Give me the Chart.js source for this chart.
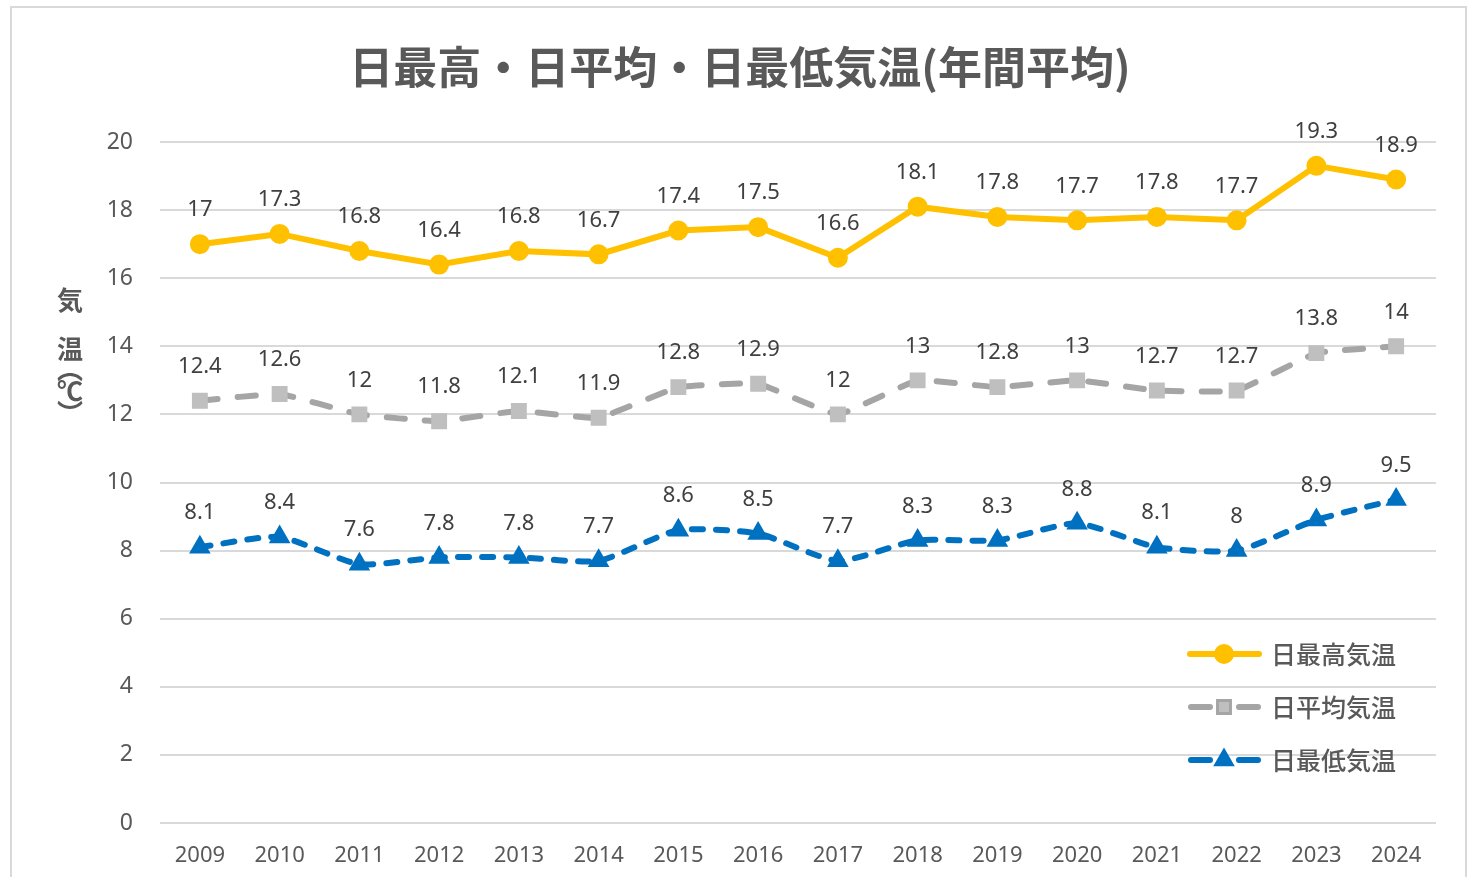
<!DOCTYPE html>
<html lang="ja">
<head>
<meta charset="utf-8">
<title>日最高・日平均・日最低気温(年間平均)</title>
<script src="https://cdn.jsdelivr.net/npm/chart.js@4/dist/chart.umd.min.js"></script>
<style>
  html, body { margin: 0; padding: 0; background: #fff; }
  #wrap { position: relative; width: 1477px; height: 877px; }
</style>
</head>
<body>
<div id="wrap"><canvas id="chart" width="1477" height="877"></canvas></div>
<script>
const years = ['2009', '2010', '2011', '2012', '2013', '2014', '2015', '2016', '2017', '2018', '2019', '2020', '2021', '2022', '2023', '2024'];
const highTemp = [17, 17.3, 16.8, 16.4, 16.8, 16.7, 17.4, 17.5, 16.6, 18.1, 17.8, 17.7, 17.8, 17.7, 19.3, 18.9];
const meanTemp = [12.4, 12.6, 12, 11.8, 12.1, 11.9, 12.8, 12.9, 12, 13, 12.8, 13, 12.7, 12.7, 13.8, 14];
const lowTemp = [8.1, 8.4, 7.6, 7.8, 7.8, 7.7, 8.6, 8.5, 7.7, 8.3, 8.3, 8.8, 8.1, 8, 8.9, 9.5];
const seriesNames = ['日最高気温', '日平均気温', '日最低気温'];

const TEXT = '#595959';
const GRID = '#d9d9d9';
const FONT = '"Noto Sans", "Noto Sans CJK JP", sans-serif';
const CJK = '"Noto Sans CJK JP", sans-serif';

// frame, title and vertical axis title
const decorPlugin = {
  id: 'decor',
  beforeDraw(chart) {
    const ctx = chart.ctx;
    ctx.save();
    ctx.strokeStyle = GRID;
    ctx.lineWidth = 2;
    ctx.strokeRect(11, 7, 1455, 890);

    ctx.fillStyle = TEXT;
    ctx.font = 'bold 44px ' + CJK;
    ctx.textAlign = 'center';
    ctx.textBaseline = 'middle';
    ctx.fillText('日最高・日平均・日最低気温(年間平均)', 740, 67);

    ctx.font = 'bold 26px ' + CJK;
    const chars = [['気', 300], ['温', 349], ['︵', 369], ['℃', 391], ['︶', 413]];
    chars.forEach(([c, y]) => ctx.fillText(c, 70, y));
    ctx.restore();
  }
};

// value labels above each point
const labelPlugin = {
  id: 'valueLabels',
  afterDatasetsDraw(chart) {
    const ctx = chart.ctx;
    ctx.save();
    ctx.fillStyle = '#404040';
    ctx.font = '22px ' + FONT;
    ctx.textAlign = 'center';
    ctx.textBaseline = 'middle';
    chart.data.datasets.forEach((ds, i) => {
      const meta = chart.getDatasetMeta(i);
      meta.data.forEach((pt, j) => {
        ctx.fillText(String(ds.data[j]), pt.x, pt.y - 34);
      });
    });
    ctx.restore();
  }
};

// legend drawn inside the plot, bottom right
const legendPlugin = {
  id: 'insideLegend',
  afterDraw(chart) {
    const ctx = chart.ctx;
    ctx.save();
    chart.data.datasets.forEach((ds, i) => {
      const y = 654 + i * 53;
      ctx.strokeStyle = ds.borderColor;
      ctx.lineWidth = ds.borderWidth;
      ctx.lineCap = 'round';
      ctx.beginPath();
      if (ds.borderDash) {
        ctx.moveTo(1191, y); ctx.lineTo(1210, y);
        ctx.moveTo(1239, y); ctx.lineTo(1258, y);
      } else {
        ctx.moveTo(1190, y); ctx.lineTo(1259, y);
      }
      ctx.stroke();
      Chart.helpers.drawPoint(ctx, {
        pointStyle: ds.pointStyle,
        radius: ds.pointRadius,
        borderWidth: 1,
        rotation: 0
      }, 1224, y);
      ctx.fillStyle = ds.pointBackgroundColor;
      ctx.strokeStyle = ds.pointBackgroundColor;
      ctx.fill();

      ctx.fillStyle = TEXT;
      ctx.font = '500 25px ' + CJK;
      ctx.textAlign = 'left';
      ctx.textBaseline = 'middle';
      ctx.fillText(seriesNames[i], 1271, y);
    });
    ctx.restore();
  }
};

new Chart(document.getElementById('chart'), {
  type: 'line',
  data: {
    labels: years,
    datasets: [
      {
        label: seriesNames[0],
        data: highTemp,
        borderColor: '#FFC000',
        backgroundColor: '#FFC000',
        pointBackgroundColor: '#FFC000',
        pointBorderColor: '#FFC000',
        pointStyle: 'circle',
        pointRadius: 7,
        borderWidth: 6,
        tension: 0
      },
      {
        label: seriesNames[1],
        data: meanTemp,
        borderColor: '#A5A5A5',
        backgroundColor: '#A5A5A5',
        pointBackgroundColor: '#BFBFBF',
        pointBorderColor: '#BFBFBF',
        pointStyle: 'rect',
        pointRadius: 7,
        borderWidth: 6,
        borderDash: [18, 20],
        borderCapStyle: 'round',
        tension: 0.1
      },
      {
        label: seriesNames[2],
        data: lowTemp,
        borderColor: '#0070C0',
        backgroundColor: '#0070C0',
        pointBackgroundColor: '#0070C0',
        pointBorderColor: '#0070C0',
        pointStyle: 'triangle',
        pointRadius: 6.5,
        borderWidth: 6,
        borderDash: [11, 13],
        borderCapStyle: 'round',
        tension: 0.2
      }
    ]
  },
  options: {
    responsive: false,
    animation: false,
    layout: {
      padding: { top: 142, right: 41, left: 0, bottom: 0 }
    },
    plugins: {
      legend: { display: false },
      title: { display: false },
      tooltip: { enabled: false }
    },
    scales: {
      x: {
        offset: true,
        grid: { display: false, drawTicks: false },
        border: { display: false },
        ticks: {
          color: TEXT,
          padding: 20,
          maxRotation: 0,
          font: { family: FONT, size: 22 }
        },
        afterFit(scale) { scale.height = 54; }
      },
      y: {
        min: 0,
        max: 20,
        ticks: {
          stepSize: 2,
          color: TEXT,
          padding: 27,
          font: { family: FONT, size: 23 }
        },
        grid: { color: GRID, lineWidth: 2, drawTicks: false },
        border: { display: false },
        afterFit(scale) { scale.width = 160; }
      }
    }
  },
  plugins: [decorPlugin, labelPlugin, legendPlugin]
});
</script>
</body>
</html>
